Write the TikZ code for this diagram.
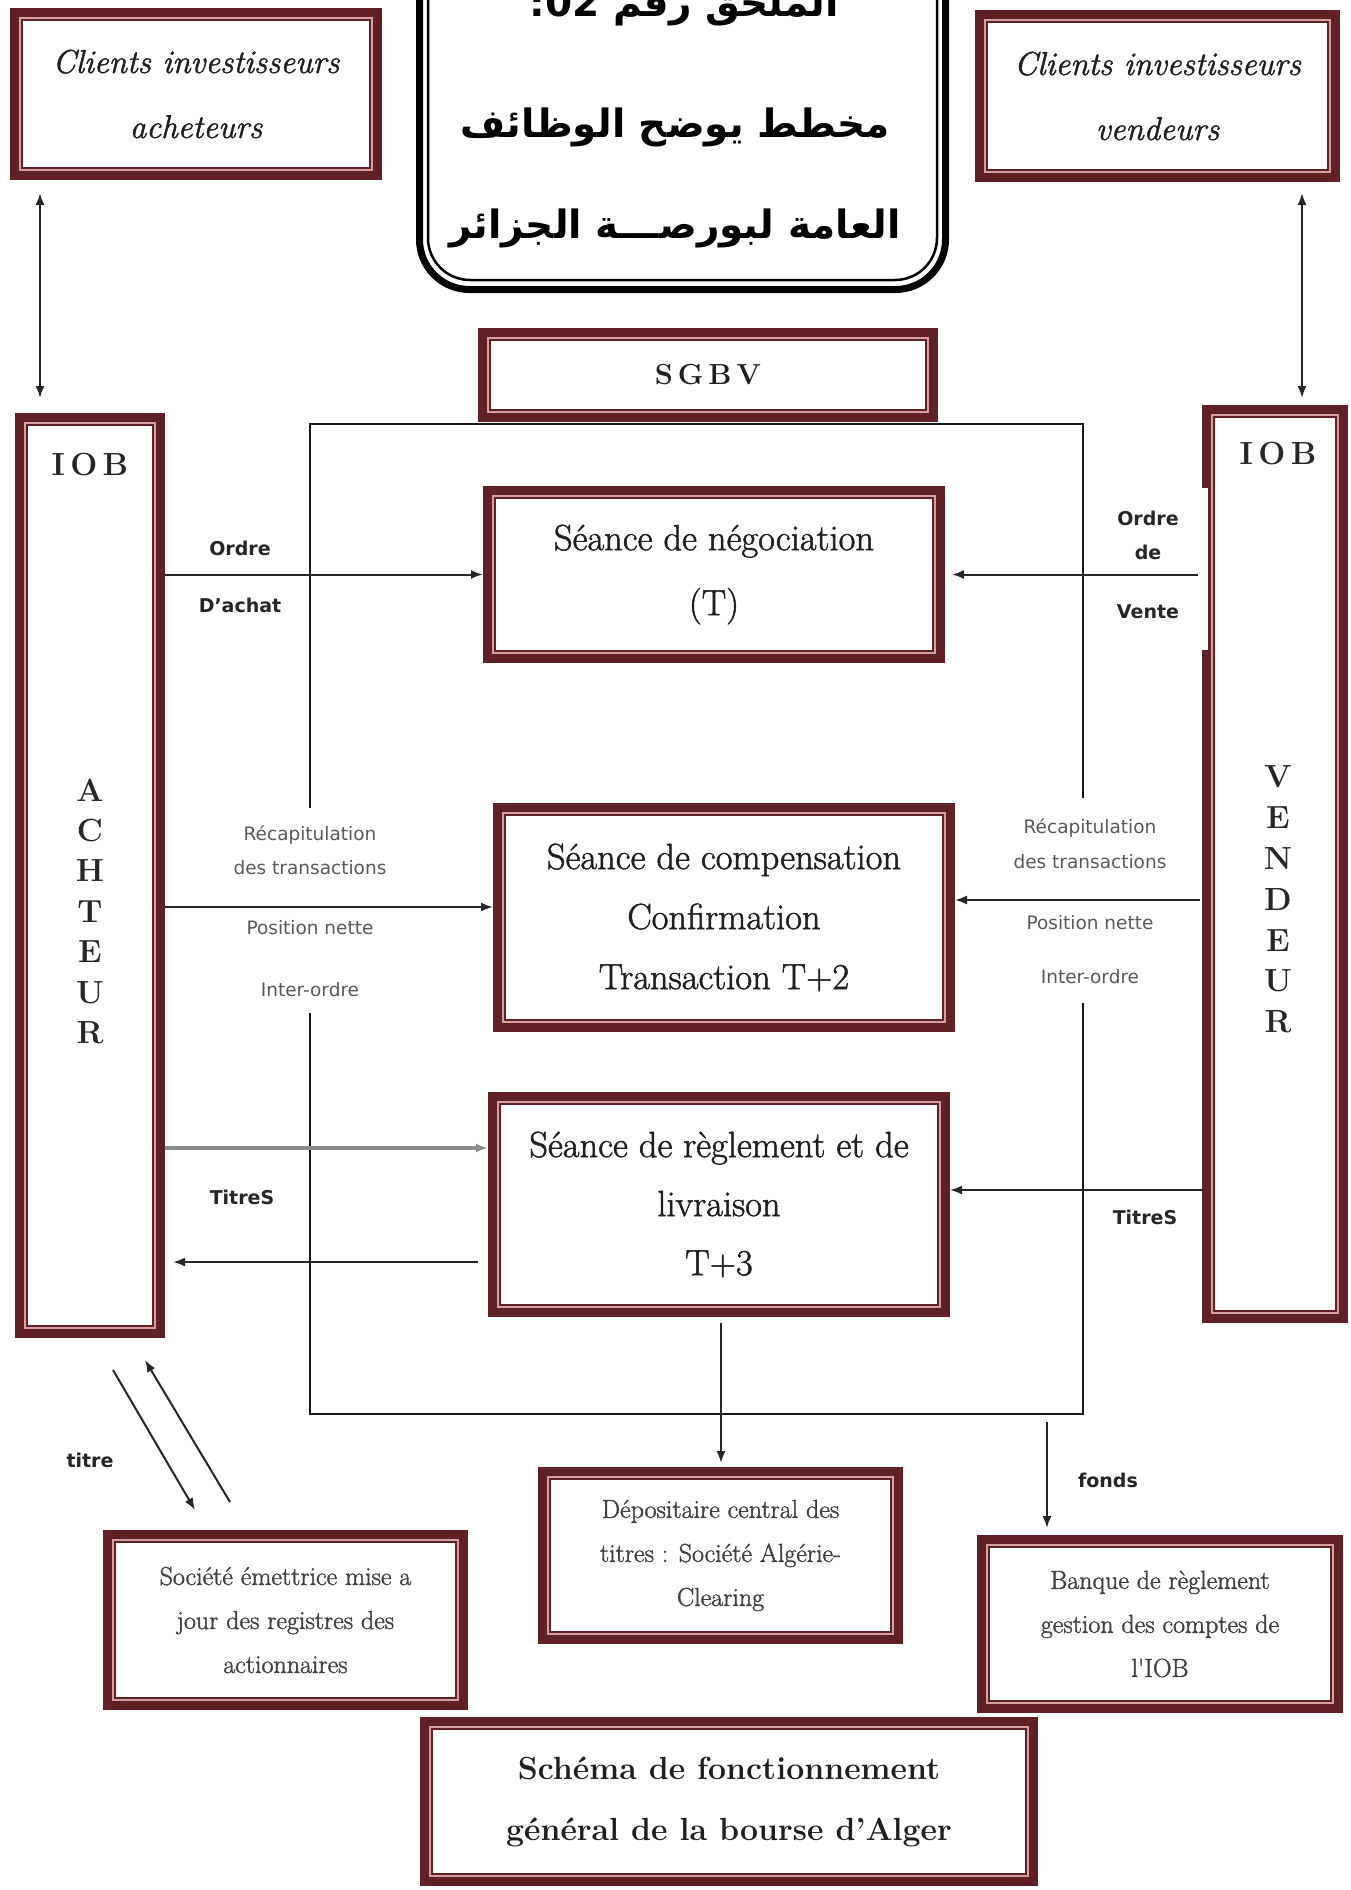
\documentclass[tikz,border=0pt]{standalone}
\usepackage{fontspec}
\usetikzlibrary{arrows.meta,calc}
\newfontfamily\dsans{DejaVu Sans}
\newfontfamily\arabicfont[Script=Arabic]{DejaVu Sans}
\newfontfamily\mserif[FakeBold=1.4]{Latin Modern Roman}
\TeXXeTstate=1
\definecolor{boxdark}{RGB}{96,32,38}
\definecolor{boxpink}{RGB}{214,160,160}
\newcommand\fs[2]{\fontsize{#1}{#2}\selectfont}
\newcommand\dframe[1]{%
  \draw[boxdark, line width=9pt] ([shift={(4.5pt,-4.5pt)}]#1.north west) rectangle ([shift={(-4.5pt,4.5pt)}]#1.south east);
  \draw[boxpink, line width=2.2pt] ([shift={(10.1pt,-10.1pt)}]#1.north west) rectangle ([shift={(-10.1pt,10.1pt)}]#1.south east);
  \draw[boxdark, line width=2pt] ([shift={(12.2pt,-12.2pt)}]#1.north west) rectangle ([shift={(-12.2pt,12.2pt)}]#1.south east);
}
\tikzset{
  box/.style={fill=white, inner sep=0pt, outer sep=0pt, align=center, text=black!88},
  arr/.style={draw=black!85, line width=2pt, -{Latex[length=12pt,width=9pt]}},
  dblarr/.style={draw=black!85, line width=2pt, {Latex[length=12pt,width=9pt]}-{Latex[length=12pt,width=9pt]}},
  lbl/.style={inner sep=0pt, text=black!85, font=\dsans\bfseries\fs{19}{23}},
  lite/.style={inner sep=0pt, text=black!65, font=\dsans\fs{18.5}{22}},
  letter/.style={inner sep=0pt, text=black!85, font=\bfseries\fs{32}{36}},
  whitegap/.style={fill=white, draw=none, inner sep=0pt, outer sep=0pt},
  arab/.style={inner sep=0pt, anchor=base, font=\arabicfont\bfseries\fs{39}{46}},
}
\begin{document}
\begin{tikzpicture}[x=1pt,y=-1pt]
\useasboundingbox (0,0) rectangle (1350,1890);
\fill[white] (0,0) rectangle (1350,1890);

% central frame
\node[draw=black!90, line width=2.5pt, minimum width=773pt, minimum height=990pt, inner sep=0pt, outer sep=0pt] (frame) at (696.5,919) {};

% Arabic title box
\draw[black, line width=7pt, rounded corners=50pt] (419.5,-60) -- (419.5,289.5) -- (945.5,289.5) -- (945.5,-60);
\draw[black, line width=2.5pt, rounded corners=42pt] (428,-60) -- (428,280) -- (937,280) -- (937,-60);
\node[arab] (ar1) at (675,16) {\beginR الملحق رقم \beginL 02\endL: \endR};
\node[arab] (ar2) at (675,137) {\beginR مخطط يوضح الوظائف\endR};
\node[arab] (ar3) at (675,238) {\beginR العامة لبورصـــة الجزائر\endR};

% boxes
\node[box, minimum width=372pt, minimum height=172pt, font=\mserif\itshape\fs{33}{65}] (cliA) at (196,94) {Clients investisseurs\\acheteurs};
\node[box, minimum width=365pt, minimum height=172pt, font=\mserif\itshape\fs{33}{65}] (cliV) at (1157.5,96) {Clients investisseurs\\vendeurs};
\node[box, minimum width=460pt, minimum height=94pt, font=\bfseries\fs{29}{30}] (sgbv) at (708,375) {S\,G\,B\,V};
\node[box, minimum width=150pt, minimum height=925pt] (IOBL) at (90,875.5) {};
\node[box, minimum width=146pt, minimum height=918pt] (IOBR) at (1275,864) {};
\node[box, minimum width=462pt, minimum height=177pt, font=\mserif\fs{36.5}{65}] (neg) at (714,574.5) {Séance de négociation\\(T)};
\node[box, minimum width=462pt, minimum height=229pt, font=\mserif\fs{36.5}{60}] (comp) at (724,917.5) {Séance de compensation\\Confirmation\\Transaction T+2};
\node[box, minimum width=462pt, minimum height=225pt, font=\mserif\fs{36.5}{59}] (regl) at (719,1204.5) {Séance de règlement et de\\livraison\\T+3};
\node[box, minimum width=365pt, minimum height=177pt, font=\mserif\fs{26}{44}, text=black!75] (depo) at (720.5,1555.5) {Dépositaire central des\\titres : Société Algérie-\\Clearing};
\node[box, minimum width=365pt, minimum height=180pt, font=\mserif\fs{26}{44}, text=black!75] (soc) at (285.5,1620) {Société émettrice mise a\\jour des registres des\\actionnaires};
\node[box, minimum width=366pt, minimum height=178pt, font=\mserif\fs{26}{44}, text=black!75] (banq) at (1160,1624) {Banque de règlement\\gestion des comptes de\\l'IOB};
\node[box, minimum width=618pt, minimum height=169pt, font=\bfseries\fs{32}{61}] (schema) at (729,1801.5) {Schéma de fonctionnement\\général de la bourse d’Alger};

\foreach \n in {cliA,cliV,sgbv,IOBL,IOBR,neg,comp,regl,depo,soc,banq,schema} {\dframe{\n}}

% texts in IOB boxes
\node[letter] (iobL) at (90,465) {I\,O\,B};
\node[letter] (iobR) at (1278,454) {I\,O\,B};
\foreach \c [count=\i from 0] in {A,C,H,T,E,U,R} {\node[letter] (la\i) at (90,790+40.5*\i) {\c};}
\foreach \c [count=\i from 0] in {V,E,N,D,E,U,R} {\node[letter] (lv\i) at (1278,777+40.8*\i) {\c};}

% white gaps under labels
\node[whitegap, minimum width=170pt, minimum height=205pt] (gapL) at (310,910.5) {};
\node[whitegap, minimum width=170pt, minimum height=205pt] (gapR) at (1090,900.5) {};
\node[whitegap, minimum width=100pt, minimum height=162pt] (gapV) at (1158,569) {};

% arrows
\draw[dblarr] ($(cliA.south west)+(30,13)$) -- ($(IOBL.north west)+(25,-15)$);
\draw[dblarr] ($(cliV.south west)+(327,11)$) -- ($(IOBR.north west)+(100,-7)$);
\draw[arr] (IOBL.east |- neg.west) -- (neg.west);
\draw[arr] ($(IOBR.west |- neg.east)+(-4,0)$) -- ($(neg.east)+(7,0)$);
\coordinate (cL) at ($(comp.west)+(0,-10.5)$);
\draw[arr] (IOBL.east |- cL) -- (cL);
\coordinate (cR) at ($(comp.east)+(0,-17.5)$);
\draw[arr] ($(IOBR.west |- cR)+(-2,0)$) -- (cR);
\coordinate (rL1) at ($(regl.west)+(0,-56.5)$);
\draw[arr, draw=black!45, line width=4pt] (IOBL.east |- rL1) -- (rL1);
\coordinate (rL2) at ($(regl.west)+(-10,57.5)$);
\draw[arr] (rL2) -- ($(IOBL.east |- rL2)+(8,0)$);
\coordinate (rR) at ($(regl.east)+(0,-14.5)$);
\draw[arr] (IOBR.west |- rR) -- (rR);
\draw[arr] ($(regl.south)+(2,6)$) -- ($(regl.south |- depo.north)+(2,-4)$);
\coordinate (fA) at ($(frame.south west)+(737,8)$);
\draw[arr] (fA) -- ($(fA |- banq.north)+(0,-7)$);
\coordinate (t1a) at ($(IOBL.south west)+(98,32)$);
\coordinate (t1b) at ($(soc.north west)+(92,-20)$);
\coordinate (t2a) at ($(soc.north west)+(127,-28)$);
\coordinate (t2b) at ($(IOBL.south west)+(130,22)$);
\draw[arr] (t1a) -- (t1b);
\draw[arr] (t2a) -- (t2b);

% labels
\node[lbl] (oA1) at (240,548) {Ordre};
\node[lbl] (oA2) at (240,605) {D’achat};
\node[lbl] (oV1) at (1148,518) {Ordre};
\node[lbl] (oV2) at (1148,552) {de};
\node[lbl] (oV3) at (1148,612) {Vente};
\node[lite] (rcL1) at (310,835) {Récapitulation};
\node[lite] (rcL2) at (310,868) {des transactions};
\node[lite] (rcL3) at (310,928) {Position nette};
\node[lite] (rcL4) at (310,990) {Inter-ordre};
\node[lite] (rcR1) at (1090,828) {Récapitulation};
\node[lite] (rcR2) at (1090,862) {des transactions};
\node[lite] (rcR3) at (1090,923) {Position nette};
\node[lite] (rcR4) at (1090,977) {Inter-ordre};
\node[lbl] (tsL) at (242,1197) {TitreS};
\node[lbl] (tsR) at (1145,1217) {TitreS};
\node[lbl] (tt) at (90,1460) {titre};
\node[lbl] (fd) at (1108,1480) {fonds};
\end{tikzpicture}
\end{document}
